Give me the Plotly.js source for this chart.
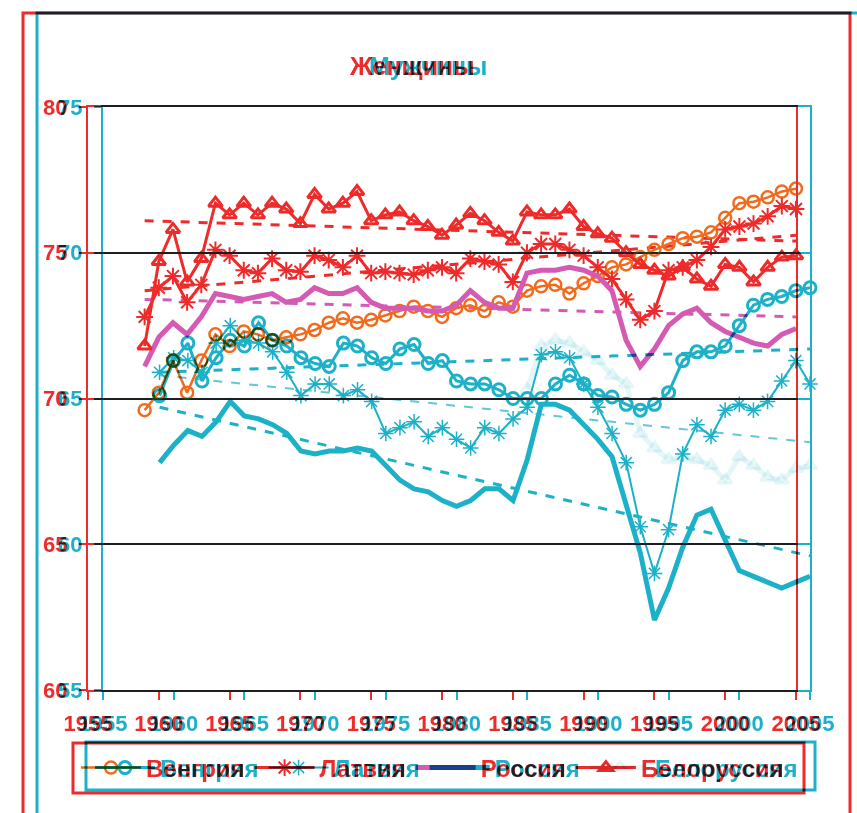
<!DOCTYPE html>
<html>
<head>
<meta charset="utf-8">
<script src="https://cdn.plot.ly/plotly-3.0.1.min.js"></script>
<style>
  html, body { margin: 0; padding: 0; background: #fff; }
  #chart { width: 857px; height: 813px; }
  .main-svg { mix-blend-mode: multiply; }
  .main-svg g.subplot,
  .main-svg .shapelayer path,
  .main-svg .infolayer > g,
  .main-svg g.legend,
  .main-svg g.legend2,
  .main-svg g.annotation { mix-blend-mode: multiply; }
</style>
</head>
<body>
<div id="chart"></div>
<script>
// ---------- data ----------
const years = [1959,1960,1961,1962,1963,1964,1965,1966,1967,1968,1969,1970,1971,1972,1973,1974,1975,1976,1977,1978,1979,1980,1981,1982,1983,1984,1985,1986,1987,1988,1989,1990,1991,1992,1993,1994,1995,1996,1997,1998,1999,2000,2001,2002,2003,2004,2005];
const seriesNames = ['Венгрия', 'Латвия', 'Россия', 'Белоруссия'];
const titleWomen = 'Женщины';
const titleMen = 'Мужчины';
const xTicks = [1955,1960,1965,1970,1975,1980,1985,1990,1995,2000,2005];
const yTicksWomen = [60,65,70,75,80];
const yTicksMen = [55,60,65,70,75];

// Women (life expectancy, years)
const hungaryW = [69.6,70.2,71.3,70.2,71.3,72.2,71.8,72.3,72.2,72.0,72.1,72.2,72.35,72.6,72.75,72.6,72.7,72.85,73.0,73.15,73.0,72.8,73.1,73.2,73.0,73.3,73.15,73.7,73.85,73.9,73.6,73.95,74.2,74.5,74.6,74.85,75.1,75.3,75.5,75.55,75.7,76.2,76.7,76.75,76.9,77.1,77.2];
const latviaW  = [72.8,73.8,74.2,73.3,73.9,75.1,74.9,74.4,74.3,74.8,74.4,74.35,74.9,74.75,74.5,74.9,74.3,74.35,74.3,74.25,74.4,74.5,74.3,74.8,74.7,74.6,74.0,75.0,75.3,75.3,75.1,74.9,74.5,74.1,73.4,72.7,73.0,74.4,74.5,74.75,75.2,75.8,75.9,76.0,76.25,76.6,76.5];
const russiaW  = [71.1,72.1,72.6,72.2,72.8,73.6,73.5,73.4,73.5,73.6,73.3,73.4,73.8,73.6,73.6,73.8,73.3,73.1,73.1,73.1,73.0,73.0,73.2,73.7,73.3,73.1,73.1,74.3,74.4,74.4,74.5,74.4,74.2,73.7,72.0,71.1,71.7,72.5,72.9,73.1,72.6,72.3,72.1,71.9,71.8,72.2,72.4];
const belarusW = [71.8,74.7,75.8,74.0,74.8,76.7,76.3,76.7,76.3,76.7,76.5,76.0,77.0,76.5,76.7,77.1,76.1,76.3,76.4,76.1,75.9,75.6,75.95,76.35,76.1,75.7,75.4,76.4,76.3,76.3,76.5,75.9,75.65,75.5,75.0,74.6,74.4,74.2,74.5,74.1,73.85,74.6,74.5,74.0,74.5,74.85,74.9];

// Men (life expectancy, years)
const hungaryM = [65.1,66.3,66.9,65.6,66.4,67.0,66.8,67.6,67.0,66.8,66.4,66.2,66.1,66.9,66.8,66.4,66.2,66.7,66.85,66.2,66.3,65.6,65.5,65.5,65.3,65.0,65.0,65.0,65.5,65.8,65.5,65.1,65.05,64.8,64.6,64.8,65.2,66.3,66.6,66.6,66.8,67.5,68.2,68.4,68.5,68.7,68.8];
const latviaM  = [65.9,66.4,66.3,65.9,66.9,67.5,67.0,66.9,66.6,65.9,65.1,65.5,65.5,65.1,65.3,64.9,63.8,64.0,64.2,63.7,64.0,63.6,63.3,64.0,63.8,64.3,64.7,66.5,66.6,66.4,65.5,64.7,63.8,62.8,60.6,59.0,60.5,63.1,64.1,63.7,64.6,64.8,64.6,64.9,65.6,66.3,65.5];
const russiaM  = [62.8,63.4,63.9,63.7,64.2,64.9,64.4,64.3,64.1,63.8,63.2,63.1,63.2,63.2,63.3,63.2,62.7,62.2,61.9,61.8,61.5,61.3,61.5,61.9,61.9,61.5,62.9,64.8,64.8,64.6,64.1,63.6,63.0,61.3,59.7,57.4,58.5,59.9,61.0,61.2,60.1,59.1,58.9,58.7,58.5,58.7,58.9];
const belarusM = [null,null,null,null,null,null,null,null,null,null,null,null,null,null,null,null,null,null,null,null,null,null,null,null,null,null,65.3,66.8,67.0,66.9,66.6,66.3,65.8,65.5,63.8,63.3,62.9,63.0,62.9,62.7,62.2,63.0,62.7,62.3,62.2,62.6,62.7];

// Trend lines (end points)
const trendYears = [1959, 2005];
const belarusWTrend = [76.1, 75.4];
const latviaWTrend  = [73.7, 75.6];
const russiaWTrend  = [73.4, 72.8];
const hungaryMTrend = [65.9, 66.7];
const latviaMTrend  = [65.8, 63.5];
const russiaMTrend  = [64.7, 59.6];

// ---------- styles ----------
const RED = '#ee2b2b';
const ORANGE = '#f26b1d';
const MAGENTA = '#d45ab4';
const CYAN = '#1db1c9';
const FONT = 'Liberation Sans, Arial, sans-serif';
const W = 857, H = 813;
const px = v => v / W;
const py = v => 1 - v / H;

function line(x, y, opt) {
  return Object.assign({type: 'scatter', mode: 'lines', x: x, y: y, cliponaxis: false, connectgaps: false}, opt);
}

const traces = [
  // Men (cyan) on x / y
  line(years, hungaryM, {name: seriesNames[0], xaxis: 'x', yaxis: 'y', legend: 'legend2', mode: 'lines+markers',
    line: {color: CYAN, width: 3}, marker: {symbol: 'circle-open', size: 12, color: CYAN, line: {width: 3, color: CYAN}}}),
  line(years, latviaM, {name: seriesNames[1], xaxis: 'x', yaxis: 'y', legend: 'legend2', mode: 'lines+markers',
    line: {color: CYAN, width: 2}, marker: {symbol: 'asterisk-open', size: 13, color: CYAN, line: {width: 1.5, color: CYAN}}}),
  line(years, russiaM, {name: seriesNames[2], xaxis: 'x', yaxis: 'y', legend: 'legend2',
    line: {color: CYAN, width: 5}}),
  line(years, belarusM, {name: seriesNames[3], xaxis: 'x', yaxis: 'y', legend: 'legend2', mode: 'lines+markers',
    line: {color: 'rgba(29,177,201,0.12)', width: 5}, marker: {symbol: 'triangle-up-open', size: 12, color: 'rgba(29,177,201,0.12)', line: {width: 3}}}),
  line(trendYears, hungaryMTrend, {xaxis: 'x', yaxis: 'y', showlegend: false, line: {color: CYAN, width: 3, dash: 'dash'}}),
  line(trendYears, latviaMTrend, {xaxis: 'x', yaxis: 'y', showlegend: false, line: {color: 'rgba(29,177,201,0.7)', width: 2, dash: 'dash'}}),
  line(trendYears, russiaMTrend, {xaxis: 'x', yaxis: 'y', showlegend: false, line: {color: CYAN, width: 3, dash: 'dash'}}),

  // Women (red) on x2 / y2
  line(trendYears, belarusWTrend, {xaxis: 'x2', yaxis: 'y2', showlegend: false, line: {color: RED, width: 3, dash: 'dash'}}),
  line(trendYears, latviaWTrend, {xaxis: 'x2', yaxis: 'y2', showlegend: false, line: {color: RED, width: 3, dash: 'dash'}}),
  line(trendYears, russiaWTrend, {xaxis: 'x2', yaxis: 'y2', showlegend: false, line: {color: MAGENTA, width: 3, dash: 'dash'}}),
  line(years, hungaryW, {name: seriesNames[0], xaxis: 'x2', yaxis: 'y2', legend: 'legend', mode: 'lines+markers',
    line: {color: ORANGE, width: 2.5}, marker: {symbol: 'circle-open', size: 12, color: ORANGE, line: {width: 2.5, color: ORANGE}}}),
  line(years, latviaW, {name: seriesNames[1], xaxis: 'x2', yaxis: 'y2', legend: 'legend', mode: 'lines+markers',
    line: {color: RED, width: 3}, marker: {symbol: 'asterisk-open', size: 14, color: RED, line: {width: 2, color: RED}}}),
  line(years, russiaW, {name: seriesNames[2], xaxis: 'x2', yaxis: 'y2', legend: 'legend',
    line: {color: MAGENTA, width: 5}}),
  line(years, belarusW, {name: seriesNames[3], xaxis: 'x2', yaxis: 'y2', legend: 'legend', mode: 'lines+markers',
    line: {color: RED, width: 3}, marker: {symbol: 'triangle-up-open', size: 12, color: RED, line: {width: 3, color: RED}}})
];

function xAxis(color, domain, anchor) {
  return {domain: domain, anchor: anchor, range: [1955, 2005], tickmode: 'array', tickvals: xTicks,
    ticktext: xTicks.map(String), ticks: 'outside', ticklen: 8, tickwidth: 2, tickcolor: color,
    showline: true, linecolor: color, linewidth: 2, mirror: true, showgrid: false, zeroline: false,
    ticklabelstandoff: 5,
    tickfont: {family: FONT, size: 22, color: color, weight: 'bold'}, fixedrange: true};
}
function yAxis(color, range, ticksArr, anchor) {
  return {domain: [py(690), py(107)], anchor: anchor, range: range, tickmode: 'array', tickvals: ticksArr,
    ticktext: ticksArr.map(String), ticks: 'outside', ticklen: 7, tickwidth: 2, tickcolor: color,
    showline: true, linecolor: color, linewidth: 2, mirror: true, showgrid: true, gridcolor: color, gridwidth: 2,
    zeroline: false, ticklabelstandoff: 7,
    tickfont: {family: FONT, size: 22, color: color, weight: 'bold'}, fixedrange: true};
}

const legendBase = {orientation: 'h', xanchor: 'left', yanchor: 'middle', y: py(768),
  bgcolor: 'rgba(0,0,0,0)', borderwidth: 0, itemwidth: 60, itemclick: false, itemdoubleclick: false};

const layout = {
  width: W, height: H,
  margin: {l: 0, r: 0, t: 0, b: 0, autoexpand: false},
  paper_bgcolor: '#ffffff',
  plot_bgcolor: 'rgba(0,0,0,0)',
  showlegend: true,
  xaxis: xAxis(CYAN, [px(103), px(810)], 'y'),
  yaxis: yAxis(CYAN, [55, 75], yTicksMen, 'x'),
  xaxis2: xAxis(RED, [px(88), px(796)], 'y2'),
  yaxis2: yAxis(RED, [60, 80], yTicksWomen, 'x2'),
  legend: Object.assign({}, legendBase, {x: px(76), font: {family: FONT, size: 24, color: RED, weight: 'bold'}}),
  legend2: Object.assign({}, legendBase, {x: px(90), font: {family: FONT, size: 24, color: CYAN, weight: 'bold'}}),
  annotations: [
    {text: titleWomen, xref: 'paper', yref: 'paper', x: px(412), y: py(66), xanchor: 'center', yanchor: 'middle',
     showarrow: false, font: {family: FONT, size: 25, color: RED, weight: 'bold'}},
    {text: titleMen, xref: 'paper', yref: 'paper', x: px(428), y: py(66), xanchor: 'center', yanchor: 'middle',
     showarrow: false, font: {family: FONT, size: 25, color: CYAN, weight: 'bold'}}
  ],
  shapes: [
    {type: 'rect', xref: 'paper', yref: 'paper', x0: px(23), x1: px(850), y0: -0.1, y1: py(13), layer: 'below', line: {color: RED, width: 3}},
    {type: 'rect', xref: 'paper', yref: 'paper', x0: px(37), x1: px(866), y0: -0.1, y1: py(13), layer: 'below', line: {color: CYAN, width: 3}},
    {type: 'rect', xref: 'paper', yref: 'paper', x0: px(73), x1: px(804), y0: py(793), y1: py(743), layer: 'below', line: {color: RED, width: 3}},
    {type: 'rect', xref: 'paper', yref: 'paper', x0: px(86), x1: px(815), y0: py(790), y1: py(742), layer: 'below', line: {color: CYAN, width: 3}}
  ]
};

Plotly.newPlot('chart', traces, layout, {displayModeBar: false, staticPlot: true});
</script>
</body>
</html>
